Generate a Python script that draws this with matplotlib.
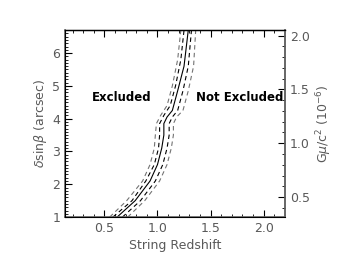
import numpy as np
import matplotlib
matplotlib.use('Agg')
from matplotlib import pyplot as plt
from matplotlib.ticker import MultipleLocator

# central constraint curve (redshift, delta sin beta)
mid_z = [0.62, 0.79, 0.93, 1.00, 1.04, 1.06, 1.06, 1.09, 1.14, 1.19, 1.25, 1.29]
mid_d = [1.00, 1.50, 2.10, 2.60, 3.10, 3.50, 3.85, 4.05, 4.25, 4.85, 5.60, 6.70]

# dashed envelope curves
lo1_z = [0.55, 0.71, 0.86, 0.93, 0.97, 0.98, 0.99, 1.03, 1.09, 1.14, 1.19, 1.22]
lo1_d = [1.00, 1.50, 2.10, 2.60, 3.10, 3.50, 3.85, 4.10, 4.40, 5.00, 5.80, 6.70]
lo2_z = [0.58, 0.76, 0.89, 0.97, 1.01, 1.02, 1.02, 1.06, 1.12, 1.17, 1.22, 1.25]
lo2_d = [1.00, 1.50, 2.10, 2.60, 3.10, 3.50, 3.85, 4.10, 4.40, 5.00, 5.80, 6.70]
hi1_z = [0.67, 0.84, 0.98, 1.05, 1.09, 1.11, 1.11, 1.14, 1.19, 1.24, 1.29, 1.32]
hi1_d = [1.00, 1.50, 2.10, 2.60, 3.10, 3.50, 3.85, 4.05, 4.25, 4.85, 5.60, 6.70]
hi2_z = [0.72, 0.88, 1.02, 1.09, 1.13, 1.15, 1.15, 1.18, 1.24, 1.29, 1.34, 1.36]
hi2_d = [1.00, 1.50, 2.10, 2.60, 3.10, 3.50, 3.85, 4.05, 4.25, 4.85, 5.60, 6.70]

xticks = [0.5, 1.0, 1.5, 2.0]
yticks = [1, 2, 3, 4, 5, 6]
rticks = [0.5, 1.0, 1.5, 2.0]

tick_col = '0.35'

fig = plt.figure(figsize=(3.5, 2.79), dpi=100)
ax = fig.add_axes([0.186, 0.222, 0.628, 0.670])

ax.plot(mid_z, mid_d, color='black', lw=0.8)
ax.plot(lo1_z, lo1_d, color='0.45', lw=0.8, ls=(0, (4, 3)))
ax.plot(lo2_z, lo2_d, color='black', lw=0.8, ls=(0, (4, 3)))
ax.plot(hi1_z, hi1_d, color='black', lw=0.8, ls=(0, (4, 3)))
ax.plot(hi2_z, hi2_d, color='0.45', lw=0.8, ls=(0, (4, 3)))

ax.set_xlim(0.13, 2.2)
ax.set_ylim(1.0, 6.7)
ax.set_xticks(xticks)
ax.set_xticklabels(['%.1f' % v for v in xticks])
ax.set_yticks(yticks)
ax.xaxis.set_minor_locator(MultipleLocator(0.1))
ax.yaxis.set_minor_locator(MultipleLocator(0.1))
ax.tick_params(which='major', direction='in', length=5, width=0.8,
               labelsize=9, labelcolor=tick_col, top=True, right=False)
ax.tick_params(which='minor', direction='in', length=2.5, width=0.6, top=True)

ax.set_xlabel('String Redshift', fontsize=9, color=tick_col, labelpad=3)
ax.set_ylabel(r'$\delta$sin$\beta$ (arcsec)', fontsize=9, color=tick_col, labelpad=2)

ax.text(0.66, 4.64, 'Excluded', fontsize=8.5, fontweight='bold',
        ha='center', va='center')
ax.text(2.19, 4.64, 'Not Excluded', fontsize=8.5, fontweight='bold',
        ha='right', va='center')

for side in ['left', 'bottom', 'right']:
    ax.spines[side].set_color('0.4')
    ax.spines[side].set_linewidth(1.2)
ax.spines['top'].set_linewidth(1.0)

ax2 = ax.twinx()
ax2.set_ylim(0.315, 2.05)
ax2.set_yticks(rticks)
ax2.set_yticklabels(['%.1f' % v for v in rticks])
ax2.yaxis.set_minor_locator(MultipleLocator(0.1))
ax2.tick_params(which='major', direction='in', length=5, width=0.8,
                labelsize=9, labelcolor=tick_col)
ax2.tick_params(which='minor', direction='in', length=2.5, width=0.6)
ax2.set_ylabel(r'G$\mu$/c$^2$ (10$^{-6}$)', fontsize=9, color=tick_col,
               labelpad=3)
ax2.spines['right'].set_color('0.4')
ax2.spines['right'].set_linewidth(1.2)

fig.savefig('out.png', dpi=100)
